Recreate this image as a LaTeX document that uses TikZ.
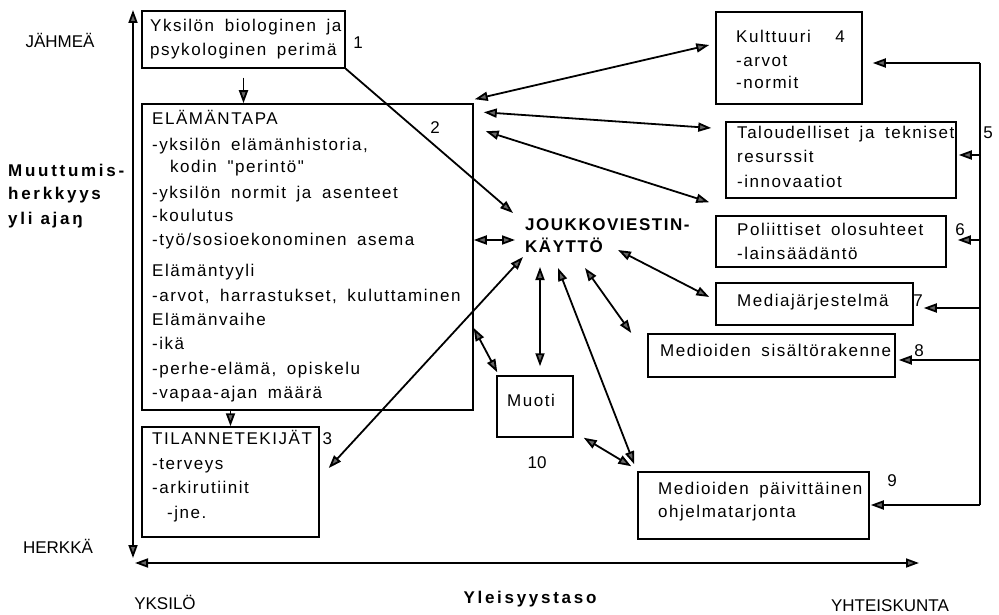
\documentclass[tikz,border=0pt]{standalone}
\usepackage{fontspec}
\setmainfont{Liberation Sans}[LetterSpace=9, WordSpace=1.7]
\newfontfamily\nolig{Liberation Sans}[LetterSpace=9, WordSpace=1.7]
\newfontfamily\plainf{Liberation Sans}
\newfontfamily\wideb{Liberation Sans}[LetterSpace=16, WordSpace=1.7]
\usetikzlibrary{arrows.meta,calc}
\begin{document}
\begin{tikzpicture}[x=1pt,y=-1pt,
  box/.style={draw, line width=1.5pt, inner sep=0pt},
  txt/.style={inner sep=0pt, anchor=west, text height=12pt, text depth=0pt, font=\fontsize{17}{20}\selectfont},
  wtxt/.style={inner sep=0pt, anchor=west, text height=12pt, text depth=0pt, font=\wideb\bfseries\fontsize{17}{20}\selectfont},
  num/.style={inner sep=0pt, text height=12pt, text depth=0pt, font=\plainf\fontsize{17}{20}\selectfont},
  con/.style={line width=1.8pt, {Triangle[length=13pt,width=9pt,fill=black!60]}-{Triangle[length=13pt,width=9pt,fill=black!60]}},
  one/.style={line width=1.8pt, -{Triangle[length=13pt,width=9pt,fill=black!60]}},
  rail/.style={line width=1.8pt}
]
\useasboundingbox (0,0) rectangle (999,615);

% ---------- boxes ----------
\node[box, minimum width=203pt, minimum height=57pt]  (b1)  at (243.5,39.5) {};
\node[box, minimum width=331pt, minimum height=306pt] (b2)  at (307.5,257) {};
\node[box, minimum width=177pt, minimum height=110pt] (b3)  at (230.5,482) {};
\node[box, minimum width=146pt, minimum height=92pt]  (b4)  at (789,58) {};
\node[box, minimum width=230pt, minimum height=76pt]  (b5)  at (841,160) {};
\node[box, minimum width=230pt, minimum height=51pt]  (b6)  at (831,241.5) {};
\node[box, minimum width=197pt, minimum height=42pt]  (b7)  at (814.5,304) {};
\node[box, minimum width=247pt, minimum height=43pt]  (b8)  at (771.5,355.5) {};
\node[box, minimum width=231pt, minimum height=67pt]  (b9)  at (753.5,505.5) {};
\node[box, minimum width=76pt,  minimum height=61pt]  (b10) at (535,406.5) {};

% ---------- box texts ----------
\node[txt] (b1a) at (150,26) {Yksilön biologinen ja};
\node[txt] (b1b) at (150,50) {psykologinen perimä};

\node[txt] (b2a) at (152,119) {ELÄMÄNTAPA};
\node[txt] (b2b) at (152,144) {-yksilön elämänhistoria,};
\node[txt, font=\nolig\fontsize{17}{20}\selectfont] (b2c) at (170,167) {kodin "perintö"};
\node[txt] (b2d) at (152,192) {-yksilön normit ja asenteet};
\node[txt] (b2e) at (152,216) {-koulutus};
\node[txt] (b2f) at (152,239) {-työ/sosioekonominen asema};
\node[txt] (b2g) at (152,270) {Elämäntyyli};
\node[txt] (b2h) at (152,295) {-arvot, harrastukset, kuluttaminen};
\node[txt] (b2i) at (152,319) {Elämänvaihe};
\node[txt] (b2j) at (152,343) {-ikä};
\node[txt] (b2k) at (152,368) {-perhe-elämä, opiskelu};
\node[txt] (b2l) at (152,392) {-vapaa-ajan määrä};

\node[txt] (b3a) at (152,438) {TILANNETEKIJÄT 3};
\node[txt] (b3b) at (152,463) {-terveys};
\node[txt] (b3c) at (152,487) {-arkirutiinit};
\node[txt] (b3d) at (167,512) {-jne.};

\node[txt] (b4a) at (736,37) {Kulttuuri};
\node[txt] (b4b) at (736,61) {-arvot};
\node[txt] (b4c) at (736,83) {-normit};

\node[txt] (b5a) at (737,133) {Taloudelliset ja tekniset};
\node[txt] (b5b) at (737,157) {resurssit};
\node[txt] (b5c) at (737,181) {-innovaatiot};

\node[txt] (b6a) at (737,229) {Poliittiset olosuhteet};
\node[txt] (b6b) at (737,253) {-lainsäädäntö};

\node[txt] (b7a) at (737,300) {Mediajärjestelmä};
\node[txt] (b8a) at (660,350) {Medioiden sisältörakenne};
\node[txt] (b9a) at (658,488) {Medioiden päivittäinen};
\node[txt] (b9b) at (658,511) {ohjelmatarjonta};
\node[txt] (b10a) at (507,400) {Muoti};

% ---------- numbers ----------
\node[num] (n1) at (358,43) {1};
\node[num] (n2) at (435,128) {2};
\node[num] (n4) at (840,37) {4};
\node[num] (n5) at (988,133) {5};
\node[num] (n6) at (960,229) {6};
\node[num] (n7) at (918,300) {7};
\node[num] (n8) at (919,350) {8};
\node[num] (n9) at (892,480) {9};
\node[num] (n10) at (537,462) {10};

% ---------- central node ----------
\node[font=\bfseries\fontsize{17}{22}\selectfont, align=left, inner sep=0pt, anchor=west] (jk) at (525,236) {JOUKKOVIESTIN-\\KÄYTTÖ};

% ---------- axis labels ----------
\node[num] (ljah) at (60,42) {JÄHMEÄ};
\node[num] (lher) at (58,547) {HERKKÄ};
\node[num] (lyks) at (165,603) {YKSILÖ};
\node[num] (lyht) at (890,605) {YHTEISKUNTA};
\node[wtxt, anchor=center] (lyle) at (530,597) {Yleisyystaso};
\node[wtxt] (lm1) at (8,170) {Muuttumis-};
\node[wtxt] (lm2) at (8,193) {herkkyys};
\node[wtxt] (lm3) at (8,218) {yli\hspace{8pt}ajaŋ};

% ---------- axes ----------
\coordinate (ytop) at (133,10);
\coordinate (ybot) at (133,558);
\coordinate (xl) at (135,563);
\coordinate (xr) at (919,563);
\draw[con] (ybot) -- (ytop);
\draw[con] (xl) -- (xr);

% ---------- vertical box arrows ----------
\draw[one] ([yshift=-9pt]b1.south) -- (b1.south |- b2.north);
\draw[one] (b3.north |- b2.south) -- (b3.north);

% ---------- connectors ----------
\draw[con] ([shift={(1,-4)}]b2.north east) -- ([shift={(-6,-13)}]b4.west);
\draw[con] ([shift={(10,9)}]b2.north east) -- ([shift={(-14,-32)}]b5.west);
\draw[con] ([shift={(12,28)}]b2.north east) -- ([shift={(-6,-13)}]b6.north west);
\draw[one] (b1.south east) -- ([shift={(-12,-23)}]jk.west);
\draw[con] ([shift={(0,-17)}]b2.east) -- ([shift={(-10,4)}]jk.west);
\draw[con] ([shift={(9,-14)}]b3.east) -- ([shift={(-2,21)}]jk.west);
\draw[con] ([shift={(0,71)}]b2.east) -- ([shift={(1,-3)}]b10.north west);
\draw[con] ([shift={(15,31)}]jk.west) -- ([shift={(5,-9)}]b10.north);
\draw[con] ([shift={(33,32)}]jk.west) -- ([shift={(-3,-7)}]b9.north west);
\draw[con] ([shift={(60,32)}]jk.west) -- ([shift={(-16,-22.5)}]b8.west);
\draw[con] ([shift={(93,14)}]jk.west) -- ([shift={(-6,-7)}]b7.west);
\draw[con] ([shift={(10,0)}]b10.south east) -- ([shift={(-6,-5)}]b9.north west);

% ---------- feedback rail ----------
\coordinate (rtop) at (980,63);
\coordinate (rbot) at (980,505);
\coordinate (t4) at ([shift={(10,5)}]b4.east);
\coordinate (t5) at ([shift={(2,-5)}]b5.east);
\coordinate (t6) at ([shift={(11,-1.5)}]b6.east);
\coordinate (t7) at ([shift={(10,4)}]b7.east);
\coordinate (t8) at ([shift={(3,4.5)}]b8.east);
\coordinate (t9) at ([shift={(1,-0.5)}]b9.east);
\draw[rail] (rtop) -- (rbot);
\draw[one] (rtop) -- (t4);
\draw[one] (rtop |- t5) -- (t5);
\draw[one] (rtop |- t6) -- (t6);
\draw[one] (rtop |- t7) -- (t7);
\draw[one] (rtop |- t8) -- (t8);
\draw[one] (rbot) -- (t9);
\end{tikzpicture}
\end{document}
